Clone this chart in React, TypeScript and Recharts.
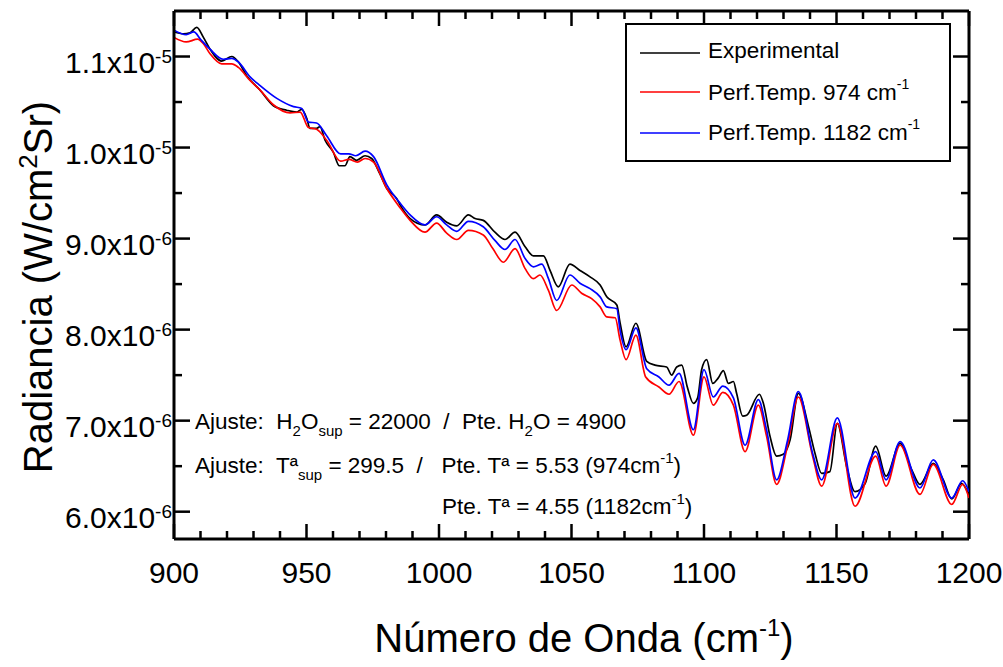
import React from "react";
import { LineChart, Line, XAxis, YAxis, ReferenceLine, Legend } from "recharts";

const FONT = '"Liberation Sans", Arial, Helvetica, sans-serif';
const PLOT_W = 795;
const PLOT_H = 528;

// wavenumber (cm-1) / radiance in units of 1e-6 W/cm2 Sr
const expWave = [900, 903.5, 906, 908.6, 911.1, 913.6, 918, 921.8, 924.3, 927.4, 932.5, 937.5, 942.5, 946.3, 948.2, 950.1, 951.3, 953.8, 955.1, 957, 960.1, 962.4, 964.5, 966.4, 968.9, 972.1, 974.6, 977.7, 980.3, 984, 985.3, 989.1, 994.7, 999.1, 1002.9, 1006.7, 1011.1, 1013.6, 1016.7, 1021.1, 1024.9, 1028.7, 1032.5, 1035.6, 1039.4, 1041.9, 1045, 1049.4, 1053.2, 1057, 1060.8, 1063.3, 1067.1, 1068.3, 1070.6, 1074.3, 1078.4, 1081.5, 1085.9, 1087.8, 1089.7, 1091.6, 1093.7, 1096, 1097.6, 1099.1, 1101, 1103.3, 1105.4, 1107.3, 1109.2, 1111.1, 1112.3, 1114.6, 1116.1, 1120.9, 1122.4, 1124.9, 1127.4, 1129.9, 1132.5, 1135.6, 1139.4, 1141.9, 1144.4, 1147.5, 1150.3, 1153.8, 1157, 1160.8, 1164.8, 1168.7, 1174, 1178.4, 1181.5, 1186.5, 1190.3, 1193.5, 1197.2, 1200];
const expRad = [11.27, 11.25, 11.26, 11.32, 11.21, 11.08, 10.95, 11.0, 10.94, 10.79, 10.63, 10.46, 10.41, 10.39, 10.42, 10.32, 10.21, 10.21, 10.23, 10.08, 9.95, 9.8, 9.8, 9.9, 9.86, 9.91, 9.88, 9.71, 9.55, 9.44, 9.37, 9.22, 9.15, 9.26, 9.18, 9.14, 9.26, 9.22, 9.2, 9.07, 8.99, 9.07, 8.91, 8.81, 8.81, 8.65, 8.47, 8.72, 8.65, 8.58, 8.49, 8.36, 8.27, 8.08, 7.81, 8.07, 7.65, 7.61, 7.59, 7.5, 7.59, 7.61, 7.37, 7.19, 7.25, 7.56, 7.67, 7.41, 7.47, 7.55, 7.41, 7.43, 7.3, 7.05, 7.06, 7.29, 7.19, 6.83, 6.61, 6.63, 6.79, 7.3, 6.94, 6.64, 6.42, 6.44, 6.97, 6.5, 6.22, 6.31, 6.72, 6.39, 6.75, 6.46, 6.3, 6.53, 6.35, 6.14, 6.31, 6.18];

const p974Wave = [900, 904.6, 908.9, 911.1, 913.6, 918, 921.8, 924.3, 928.6, 932.5, 937.5, 943.8, 947.6, 950.7, 953.8, 957.6, 962.9, 966, 969.2, 972.1, 975.3, 980.3, 985.3, 989.1, 994.7, 999.1, 1002.9, 1006.7, 1011.1, 1016.7, 1020.3, 1024.3, 1028.7, 1032.5, 1035.6, 1038.1, 1041.3, 1044.4, 1050.1, 1053.8, 1057.6, 1060.8, 1063.3, 1066.5, 1068.3, 1070.6, 1074.3, 1078, 1083, 1086.8, 1090.6, 1096, 1100, 1103.5, 1107.1, 1111.1, 1115.5, 1120.5, 1123.6, 1127.4, 1131.5, 1135.6, 1141, 1144.4, 1150.3, 1157, 1164.8, 1168.7, 1174, 1181.5, 1186.5, 1193.5, 1197.6, 1200];
const p974Rad = [11.21, 11.16, 11.19, 11.14, 11.03, 10.92, 10.92, 10.88, 10.74, 10.63, 10.47, 10.38, 10.39, 10.22, 10.2, 10.08, 9.85, 9.87, 9.84, 9.88, 9.84, 9.55, 9.34, 9.2, 9.07, 9.17, 9.06, 8.99, 9.09, 9.04, 8.89, 8.74, 8.89, 8.67, 8.56, 8.6, 8.43, 8.21, 8.49, 8.4, 8.34, 8.25, 8.14, 8.13, 7.89, 7.67, 7.94, 7.48, 7.37, 7.29, 7.43, 6.84, 7.48, 7.17, 7.31, 7.17, 6.66, 7.17, 6.83, 6.3, 6.72, 7.26, 6.61, 6.28, 6.97, 6.06, 6.61, 6.28, 6.73, 6.19, 6.52, 6.08, 6.3, 6.15];

const p1182Wave = [900, 904.6, 907.5, 910, 913.6, 918.6, 921.8, 924.3, 928.6, 932.5, 938.8, 945.1, 948.2, 950.7, 953.8, 957.6, 962.9, 966, 968.6, 972.1, 975.3, 980.3, 985.3, 989.1, 994.7, 999.1, 1002.9, 1006.7, 1011.1, 1016.7, 1021.1, 1024.9, 1028.7, 1032.5, 1035.6, 1038.8, 1041.3, 1044.4, 1049.4, 1053.2, 1057, 1060.8, 1063.3, 1067.1, 1068.3, 1070.6, 1074.3, 1078.4, 1083, 1086.8, 1090.6, 1096, 1100, 1103.5, 1107.1, 1111.1, 1115.5, 1120.5, 1123.6, 1127.4, 1131.5, 1135.6, 1141, 1144.4, 1150.3, 1157, 1164.8, 1168.7, 1174, 1181.5, 1186.5, 1193.5, 1197.6, 1200];
const p1182Rad = [11.29, 11.24, 11.27, 11.19, 11.08, 10.97, 10.98, 10.94, 10.78, 10.68, 10.54, 10.45, 10.43, 10.28, 10.27, 10.13, 9.93, 9.93, 9.91, 9.96, 9.9, 9.59, 9.39, 9.26, 9.15, 9.24, 9.15, 9.08, 9.19, 9.13, 8.98, 8.88, 8.99, 8.78, 8.69, 8.72, 8.56, 8.32, 8.6, 8.51, 8.45, 8.36, 8.25, 8.23, 8.0, 7.78, 8.02, 7.57, 7.48, 7.39, 7.52, 6.9, 7.56, 7.26, 7.38, 7.25, 6.73, 7.23, 6.9, 6.35, 6.78, 7.32, 6.64, 6.35, 7.03, 6.15, 6.66, 6.35, 6.77, 6.26, 6.57, 6.15, 6.34, 6.22];

const xTicks = [900, 910, 920, 930, 940, 950, 960, 970, 980, 990, 1000, 1010, 1020, 1030, 1040, 1050, 1060, 1070, 1080, 1090, 1100, 1110, 1120, 1130, 1140, 1150, 1160, 1170, 1180, 1190, 1200];
const xLabels = [900, 950, 1000, 1050, 1100, 1150, 1200];
const yTicks = [6, 6.5, 7, 7.5, 8, 8.5, 9, 9.5, 10, 10.5, 11];
const yLabels = [6, 7, 8, 9, 10, 11];
const yMantissa = ["6.0", "7.0", "8.0", "9.0", "1.0", "1.1"];
const yExponent = ["-6", "-6", "-6", "-6", "-5", "-5"];

const seriesNames = ["Experimental", "Perf.Temp. 974 cm", "Perf.Temp. 1182 cm"];
const seriesSup = ["", "-1", "-1"];
const seriesColors = ["#000000", "#ff0000", "#0000ff"];

const toPoints = (w: number[], r: number[]) => w.map((x, i) => ({ x, y: r[i] }));

function XTick(props: any) {
  const { x, y, payload } = props;
  const v = payload.value;
  const major = xLabels.includes(v);
  const len = major ? 15 : 8;
  return (
    <g>
      <line x1={x} x2={x} y1={y} y2={y - len} stroke="#000" strokeWidth={2.5} />
      <line x1={x} x2={x} y1={y - PLOT_H} y2={y - PLOT_H + len} stroke="#000" strokeWidth={2.5} />
      {major && (
        <text x={x} y={y + 44} textAnchor="middle" fontSize={30} fontFamily={FONT} fill="#000">
          {v}
        </text>
      )}
    </g>
  );
}

function YTick(props: any) {
  const { x, y, payload } = props;
  const idx = yLabels.indexOf(payload.value);
  const major = idx >= 0;
  const len = major ? 16 : 8;
  return (
    <g>
      <line x1={x} x2={x + len} y1={y} y2={y} stroke="#000" strokeWidth={2.5} />
      <line x1={x + PLOT_W} x2={x + PLOT_W - len} y1={y} y2={y} stroke="#000" strokeWidth={2.5} />
      {major && (
        <text x={x - 2} y={y + 16} textAnchor="end" fontSize={30} fontFamily={FONT} fill="#000">
          {yMantissa[idx]}x10
          <tspan fontSize={19} dy={-10}>{yExponent[idx]}</tspan>
        </text>
      )}
    </g>
  );
}

function LegendBox() {
  const rowsLine = [30, 69, 110];
  const rowsText = [35, 77, 117];
  return (
    <svg width={326} height={139}>
      <rect x={1} y={1} width={324} height={137} fill="#fff" stroke="#000" strokeWidth={2} />
      {seriesNames.map((name, i) => (
        <g key={name}>
          <line x1={15} x2={75} y1={rowsLine[i]} y2={rowsLine[i]} stroke={seriesColors[i]} strokeWidth={1.5} />
          <text x={83} y={rowsText[i]} fontSize={22.5} fontFamily={FONT} fill="#000">
            {name}
            {seriesSup[i] && <tspan fontSize={14} dy={-11}>{seriesSup[i]}</tspan>}
          </text>
        </g>
      ))}
    </svg>
  );
}

export default function App() {
  const axisLine = { stroke: "#000", strokeWidth: 3 };
  const sub = { fontSize: 15 };
  return (
    <div style={{ position: "absolute", left: 0, top: 0, width: 1003, height: 667, background: "#fff" }}>
      <LineChart width={1003} height={667} margin={{ top: 11, right: 34, bottom: 0, left: 0 }}>
        <XAxis
          dataKey="x"
          type="number"
          domain={[900, 1200]}
          ticks={xTicks}
          interval={0}
          height={128}
          tickSize={0}
          tickMargin={0}
          tick={<XTick />}
          axisLine={axisLine}
          allowDataOverflow
        />
        <YAxis
          type="number"
          domain={[5.7, 11.5]}
          ticks={yTicks}
          interval={0}
          width={174}
          tickSize={0}
          tickMargin={0}
          tick={<YTick />}
          axisLine={axisLine}
          allowDataOverflow
        />
        <ReferenceLine x={1200} stroke="#000" strokeWidth={3} />
        <ReferenceLine y={11.5} stroke="#000" strokeWidth={3} />
        <Legend
          layout="vertical"
          align="center"
          verticalAlign="middle"
          content={<LegendBox />}
          wrapperStyle={{ left: 625, top: 23, width: 326, height: 139 }}
        />
        <Line data={toPoints(expWave, expRad)} dataKey="y" name={seriesNames[0]} type="monotone" stroke={seriesColors[0]} strokeWidth={1.7} dot={false} isAnimationActive={false} />
        <Line data={toPoints(p974Wave, p974Rad)} dataKey="y" name={seriesNames[1]} type="monotone" stroke={seriesColors[1]} strokeWidth={1.7} dot={false} isAnimationActive={false} />
        <Line data={toPoints(p1182Wave, p1182Rad)} dataKey="y" name={seriesNames[2]} type="monotone" stroke={seriesColors[2]} strokeWidth={1.7} dot={false} isAnimationActive={false} />
      </LineChart>
      <svg width={1003} height={667} style={{ position: "absolute", left: 0, top: 0, pointerEvents: "none" }} fontFamily={FONT} fill="#000">
        <text transform="translate(52, 287) rotate(-90)" textAnchor="middle" fontSize={40}>
          Radiancia (W/cm<tspan fontSize={26} dy={-15}>2</tspan>
          <tspan dy={15}>Sr)</tspan>
        </text>
        <text x={584} y={652} textAnchor="middle" fontSize={40}>
          Número de Onda (cm<tspan fontSize={24} dy={-16}>-1</tspan>
          <tspan dy={16}>)</tspan>
        </text>
        <text x={195} y={429} fontSize={22.5} style={{ whiteSpace: "pre" }}>
          {"Ajuste:  H"}<tspan {...sub} dy={7}>2</tspan><tspan dy={-7}>O</tspan>
          <tspan {...sub} dy={7}>sup</tspan><tspan dy={-7}>{" = 22000  /  Pte. H"}</tspan>
          <tspan {...sub} dy={7}>2</tspan><tspan dy={-7}>O = 4900</tspan>
        </text>
        <text x={195} y={473} fontSize={22.5} style={{ whiteSpace: "pre" }}>
          {"Ajuste:  Tª"}<tspan {...sub} dy={7}>sup</tspan>
          <tspan dy={-7}>{" = 299.5  /   Pte. Tª = 5.53 (974cm"}</tspan>
          <tspan {...sub} dy={-10}>-1</tspan><tspan dy={10}>)</tspan>
        </text>
        <text x={442} y={514} fontSize={22.5} style={{ whiteSpace: "pre" }}>
          {"Pte. Tª = 4.55 (1182cm"}<tspan {...sub} dy={-10}>-1</tspan><tspan dy={10}>)</tspan>
        </text>
      </svg>
    </div>
  );
}
